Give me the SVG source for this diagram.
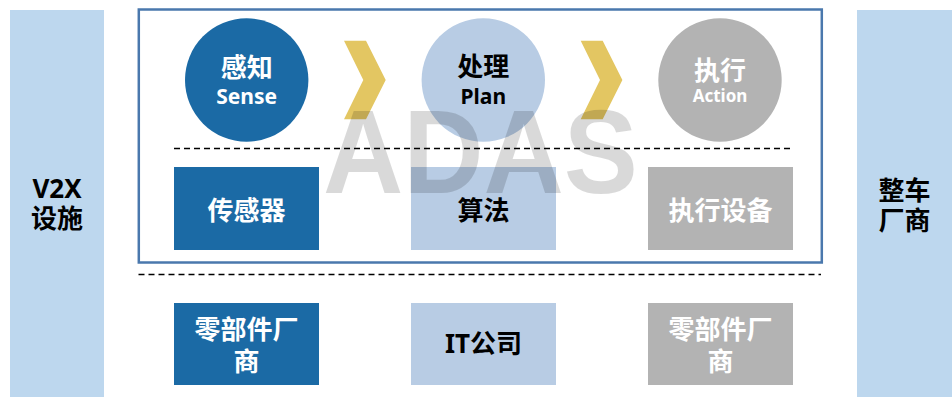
<svg xmlns="http://www.w3.org/2000/svg" width="952" height="397" viewBox="0 0 952 397">
<style>
text{font-family:"Noto Sans","Noto Sans CJK SC",sans-serif;font-weight:bold;text-anchor:middle}
.cj{font-size:26px}
.w{fill:#ffffff}
.k{fill:#000000}
.dark{fill:#1b6aa5}
.light{fill:#b8cce4}
.gray{fill:#b3b3b3}
.side{fill:#bdd7ee}
.chev{fill:#e3c662}
.dash{stroke:#000;stroke-width:1.6;stroke-dasharray:6 4;fill:none}
.wm{font-family:"Liberation Sans",Arial,sans-serif;font-weight:bold;font-size:118px;fill:#000;fill-opacity:0.15}
</style>
<rect width="952" height="397" fill="#ffffff"/>
<g id="v2x">
<rect class="side" x="10" y="10" width="94" height="387"/>
<text class="k" x="57" y="198.3" font-size="26">V2X</text>
<text class="k cj" x="57" y="228">设施</text>
</g>
<g id="oem">
<rect class="side" x="857" y="10" width="95" height="387"/>
<text class="k cj" x="904.5" y="199.5">整车</text>
<text class="k cj" x="904.5" y="229.5">厂商</text>
</g>
<g id="adas-frame">
<rect x="138.8" y="9.5" width="683" height="253" fill="none" stroke="#4a78ad" stroke-width="2.5"/>
</g>
<g id="sense">
<circle class="dark" cx="246.7" cy="80" r="61.7"/>
<text class="w cj" x="246.7" y="77">感知</text>
<text class="w" x="246.7" y="104" font-size="21">Sense</text>
</g>
<g id="plan">
<circle class="light" cx="483.3" cy="80" r="61.7"/>
<text class="k cj" x="483.3" y="76">处理</text>
<text class="k" x="483.3" y="104" font-size="21">Plan</text>
</g>
<g id="action">
<circle class="gray" cx="720" cy="80" r="61.7"/>
<text class="w cj" x="720" y="79.5">执行</text>
<text class="w" x="720" y="101.7" font-size="17">Action</text>
</g>
<g id="sensor">
<rect class="dark" x="174" y="167" width="145" height="83"/>
<text class="w cj" x="246.5" y="220">传感器</text>
</g>
<g id="algorithm">
<rect class="light" x="411" y="167" width="145" height="83"/>
<text class="k cj" x="483.5" y="220">算法</text>
</g>
<g id="actuator">
<rect class="gray" x="648" y="167" width="145" height="83"/>
<text class="w cj" x="720.5" y="220">执行设备</text>
</g>
<g id="parts1">
<rect class="dark" x="174" y="303" width="145" height="82"/>
<text class="w cj" x="246.5" y="338.5">零部件厂</text>
<text class="w cj" x="246.5" y="371">商</text>
</g>
<g id="it">
<rect class="light" x="411" y="303" width="145" height="82"/>
<text class="k cj" x="483.5" y="352.5">IT公司</text>
</g>
<g id="parts2">
<rect class="gray" x="648" y="303" width="145" height="82"/>
<text class="w cj" x="720.5" y="338.5">零部件厂</text>
<text class="w cj" x="720.5" y="371">商</text>
</g>
<g id="connectors">
<polygon class="chev" points="344,40.7 366,40.7 385.7,80 366,119.3 344,119.3 363.3,80"/>
<polygon class="chev" points="580.7,40.7 602.7,40.7 622.4,80 602.7,119.3 580.7,119.3 600,80"/>
<text class="wm" x="480.5" y="193" textLength="315" lengthAdjust="spacingAndGlyphs">ADAS</text>
<line class="dash" x1="174" y1="148.5" x2="793" y2="148.5"/>
<line class="dash" x1="138.5" y1="274.5" x2="821" y2="274.5"/>
</g>
</svg>
